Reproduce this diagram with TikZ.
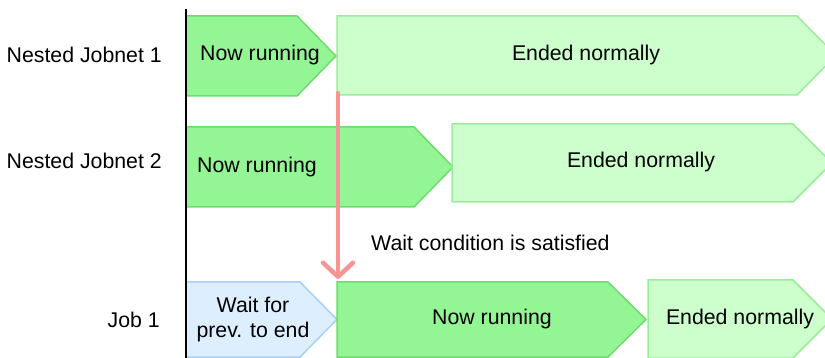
\documentclass[tikz,border=0pt]{standalone}
\usepackage{fontspec}
\setmainfont{Liberation Sans}
\usetikzlibrary{arrows.meta}
\definecolor{runfill}{HTML}{94F594}
\definecolor{rundraw}{HTML}{6CDC6C}
\definecolor{endfill}{HTML}{CCFFCC}
\definecolor{enddraw}{HTML}{99EE99}
\definecolor{waitfill}{HTML}{DDEEFF}
\definecolor{waitdraw}{HTML}{A8D0F5}
\definecolor{arrowred}{HTML}{F79494}
\begin{document}
\begin{tikzpicture}[x=1pt,y=-1pt,
  font=\fontsize{21.3}{25}\selectfont,
  runbox/.style={fill=runfill,draw=rundraw,line width=1.5pt,line join=miter},
  endbox/.style={fill=endfill,draw=enddraw,line width=1.5pt,line join=miter},
  waitbox/.style={fill=waitfill,draw=waitdraw,line width=1.5pt,line join=miter},
  lbl/.style={inner sep=0pt,text=black},
  rowlbl/.style={inner sep=0pt,anchor=east,text=black},
  waitarrow/.style={draw=arrowred,line width=4.5pt,line cap=round,
    -{Straight Barb[length=14pt,width=30pt,line cap=round,line join=round]}}]
\useasboundingbox (0,0) rectangle (825,358);
\begin{scope}
\clip (0,0) rectangle (825,358);
% Row 1
\draw[runbox] (186,16) -- (297,16) -- (336,56) -- (297,96) -- (186,96) -- cycle;
\node[lbl] (n1run) at (260,55) {Now running};
\draw[endbox] (337,16) -- (797,16) -- (836,55.5) -- (797,95) -- (337,95) -- cycle;
\node[lbl] (n1end) at (586,55) {Ended normally};
% Row 2
\draw[runbox] (186,127) -- (414,127) -- (453,167) -- (414,207) -- (186,207) -- cycle;
\node[lbl,anchor=west] (n2run) at (197,167) {Now running};
\draw[endbox] (452,124) -- (793,124) -- (832,163) -- (793,202) -- (452,202) -- cycle;
\node[lbl] (n2end) at (641,162) {Ended normally};
% Row 3
\draw[waitbox] (186,282) -- (300,282) -- (337,319.5) -- (300,357) -- (186,357) -- cycle;
\node[lbl,align=center] (j1wait) at (253,319.5) {Wait for\\prev. to end};
\draw[runbox] (337,282) -- (608,282) -- (646,319.5) -- (608,357) -- (337,357) -- cycle;
\node[lbl] (j1run) at (492,319) {Now running};
\draw[endbox] (648,280) -- (793,280) -- (832,319) -- (793,358) -- (648,358) -- cycle;
\node[lbl] (j1end) at (740,319) {Ended normally};
% axis
\coordinate (axtop) at (186,9);
\coordinate (axbot) at (186,358);
\draw[line width=1.5pt,black] (axtop) -- (axbot);
% wait arrow
\coordinate (arrS) at (338,93);
\coordinate (arrE) at (338,279);
\draw[waitarrow] (arrS) -- (arrE);
\end{scope}
% labels
\node[rowlbl] (l1) at (162,55) {Nested Jobnet 1};
\node[rowlbl] (l2) at (162,161) {Nested Jobnet 2};
\node[rowlbl] (l3) at (160,320) {Job 1};
\node[lbl,anchor=west] (cond) at (371,243) {Wait condition is satisfied};
\end{tikzpicture}
\end{document}
